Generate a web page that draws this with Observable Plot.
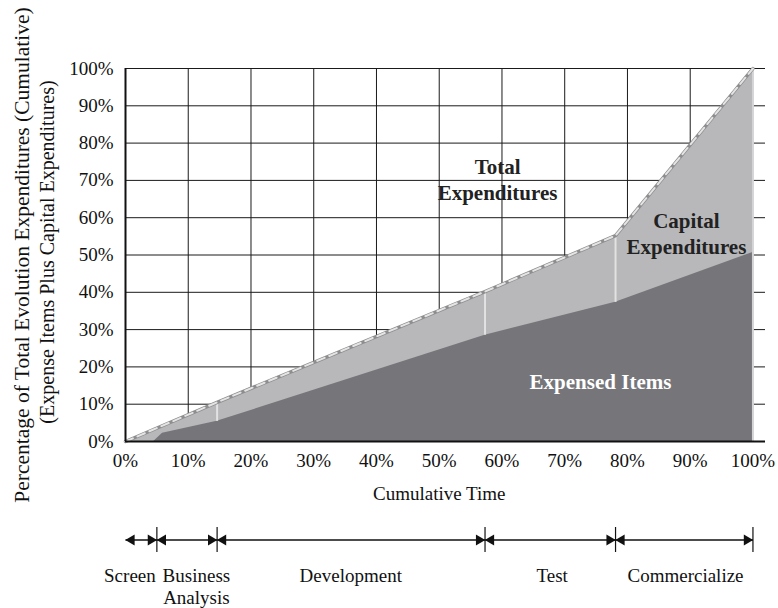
<!DOCTYPE html>
<html>
<head>
<meta charset="utf-8">
<script src="https://cdn.jsdelivr.net/npm/d3@7"></script>
<script src="https://cdn.jsdelivr.net/npm/@observablehq/plot@0.6"></script>
<style>
  body { margin: 0; background: #fff; }
  #chart svg { display: block; }
</style>
</head>
<body>
<div id="chart"></div>
<script>
// ---- data ----
const xTicks = [0, 0.1, 0.2, 0.3, 0.4, 0.5, 0.6, 0.7, 0.8, 0.9, 1.0];
const yTicks = [0, 0.1, 0.2, 0.3, 0.4, 0.5, 0.6, 0.7, 0.8, 0.9, 1.0];

// Total expenditures (cumulative) vs cumulative time
const totalTime = [0, 0.146, 0.573, 0.781, 1.0];
const totalPct  = [0, 0.105, 0.402, 0.552, 1.0];

// Expensed items (cumulative)
const expensedTime = [0.045, 0.059, 0.146, 0.573, 0.781, 1.0];
const expensedPct  = [0, 0.022, 0.054, 0.285, 0.373, 0.507];

// Phases
const phaseNames = ["Screen", "Business\nAnalysis", "Development", "Test", "Commercialize"];
const phaseStart = [0, 0.05, 0.146, 0.573, 0.781];
const phaseEnd   = [0.05, 0.146, 0.573, 0.781, 1.0];
const phaseLabelX = [0.007, 0.113, 0.359, 0.680, 0.8925];

// Area labels
const areaLabels = ["Total\nExpenditures", "Capital\nExpenditures", "Expensed Items"];
const areaLabelX = [0.593, 0.894, 0.757];
const areaLabelY = [0.705, 0.56, 0.164];
const areaLabelColor = ["#222", "#222", "#fff"];

// ---- tables ----
const total = totalTime.map((t, i) => ({t, v: totalPct[i]}));
const expensed = expensedTime.map((t, i) => ({t, v: expensedPct[i]}));
const dividers = [1, 2, 3].map(i => ({t: totalTime[i], top: totalPct[i], bottom: expensedPct[expensedTime.indexOf(totalTime[i])]}));
const phases = phaseNames.map((name, i) => ({name, start: phaseStart[i], end: phaseEnd[i], lx: phaseLabelX[i]}));
const labels = areaLabels.map((text, i) => ({text, x: areaLabelX[i], y: areaLabelY[i], c: areaLabelColor[i]}));
const pct = d => Math.round(d * 100) + "%";

const font = "'Liberation Serif', 'Times New Roman', serif";

const main = Plot.plot({
  width: 778,
  height: 508,
  marginLeft: 125,
  marginRight: 13,
  marginTop: 68,
  marginBottom: 67,
  style: {fontFamily: font, fontSize: "19px", color: "#111", background: "#fff", overflow: "visible"},
  x: {domain: [0, 1.02]},
  y: {domain: [0, 1]},
  marks: [
    // grid
    Plot.ruleX(xTicks.slice(1, 10), {y1: 0, y2: 1, stroke: "#1a1a1a", strokeWidth: 1}),
    Plot.ruleY(yTicks.slice(1), {x1: 0, x2: 1.02, stroke: "#1a1a1a", strokeWidth: 1}),
    // areas
    Plot.areaY(total, {x: "t", y: "v", fill: "#b8b8ba"}),
    Plot.areaY(expensed, {x: "t", y: "v", fill: "#76767a"}),
    // light dividers
    Plot.ruleX(dividers, {x: "t", y1: "bottom", y2: "top", stroke: "#e2e2e2", strokeWidth: 2}),
    Plot.ruleX([1], {y1: 0, y2: 1, stroke: "#d4d4d6", strokeWidth: 2}),
    // dashed total line
    Plot.line(total, {x: "t", y: "v", stroke: "#8e8e90", strokeWidth: 3.5}),
    Plot.line(total, {x: "t", y: "v", stroke: "#e4e4e4", strokeWidth: 2, strokeDasharray: "8,5"}),
    // axis lines
    Plot.ruleX([0], {y1: 0, y2: 1, stroke: "#111", strokeWidth: 2}),
    Plot.ruleY([0], {x1: 0, x2: 1.02, stroke: "#111", strokeWidth: 2}),
    // axes
    Plot.axisX({ticks: xTicks, tickFormat: pct, tickSize: 0, tickPadding: 12, label: null, fontSize: 19}),
    Plot.axisY({ticks: yTicks, tickFormat: pct, tickSize: 0, tickPadding: 12, label: null, fontSize: 19}),
    // axis titles
    Plot.text(["Cumulative Time"], {x: 0.5, y: 0, dy: 52, fontSize: 19, fill: "#111"}),
    Plot.text(["Percentage of Total Evolution Expenditures (Cumulative)"], {frameAnchor: "left", textAnchor: "middle", dx: -103, rotate: -90, fontSize: 21.5, fill: "#111"}),
    Plot.text(["(Expense Items Plus Capital Expenditures)"], {frameAnchor: "left", textAnchor: "middle", dx: -78, dy: -3, rotate: -90, fontSize: 20, fill: "#111"}),
    // area labels
    Plot.text(labels, {x: "x", y: "y", text: "text", fill: "c", fontWeight: "bold", fontSize: 21, lineHeight: 1.22})
  ]
});

const timeline = Plot.plot({
  width: 778,
  height: 100,
  marginLeft: 125,
  marginRight: 13,
  marginTop: 19,
  marginBottom: 56,
  style: {fontFamily: font, fontSize: "19px", color: "#111", background: "#fff", overflow: "visible"},
  x: {domain: [0, 1.02], axis: null},
  y: {domain: [0, 1], axis: null},
  marks: [
    Plot.ruleX(phaseEnd, {y1: 0, y2: 1, stroke: "#111", strokeWidth: 1.2}),
    Plot.link(phases, {x1: "start", x2: "end", y1: 0.5, y2: 0.5, stroke: "#111", strokeWidth: 1.5}),
    Plot.dot(phases, {x: "start", y: 0.5, symbol: "triangle", r: 4, rotate: -90, fill: "#111", dx: 6}),
    Plot.dot(phases, {x: "end", y: 0.5, symbol: "triangle", r: 4, rotate: 90, fill: "#111", dx: -6}),
    Plot.text(phases, {x: "lx", y: 0, text: "name", dy: 13, lineAnchor: "top", lineHeight: 1.2, fontSize: 19, fill: "#111"})
  ]
});

document.getElementById("chart").append(main, timeline);
</script>
</body>
</html>
